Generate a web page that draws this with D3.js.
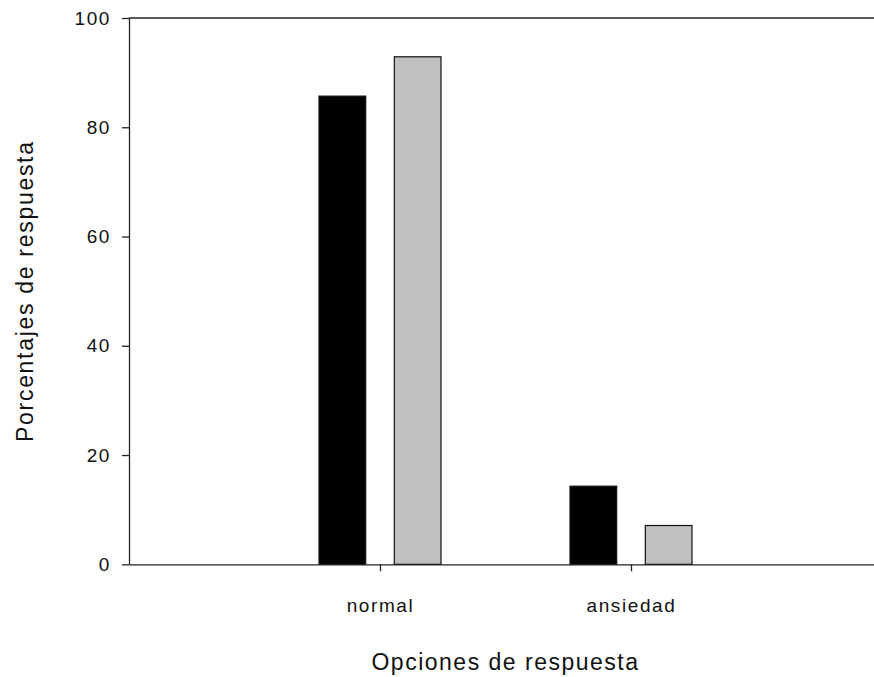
<!DOCTYPE html>
<html><head><meta charset="utf-8">
<script src="https://cdn.jsdelivr.net/npm/d3@7"></script>
<style>body{margin:0;background:#fff}svg{display:block}</style>
</head><body>
<script>
const categories = ["normal", "ansiedad"];
const series1 = [85.7, 14.3];   // black bars
const series2 = [92.9, 7.1];    // grey bars
const yTicks = [0, 20, 40, 60, 80, 100];
const xTitle = "Opciones de respuesta";
const yTitle = "Porcentajes de respuesta";

const W = 874, H = 677;
const pLeft = 129, pTop = 18, pBottom = 564.3, pRight = 882;
const svg = d3.select("body").append("svg").attr("width", W).attr("height", H);

const x = d3.scaleLinear().domain([0, categories.length + 1]).range([pLeft, pRight]);
const y = d3.scaleLinear().domain([0, 100]).range([pBottom, pTop]);

const off = 0.15, bw = 0.186;
const series = [{vals: series1, fill: "#000", o: -off}, {vals: series2, fill: "#c0c0c0", o: off}];
series.forEach(s => {
  svg.append("g").selectAll("rect").data(s.vals).join("rect")
    .attr("x", (d, i) => x(i + 1 + s.o - bw / 2))
    .attr("width", x(bw) - x(0))
    .attr("y", d => y(d))
    .attr("height", d => y(0) - y(d))
    .attr("fill", s.fill)
    .attr("stroke", "#111").attr("stroke-width", 1.2);
});

const font = "'Liberation Sans', Arial, Helvetica, sans-serif";
// Y axis
const yAxis = svg.append("g").attr("transform", `translate(${pLeft},0)`)
  .call(d3.axisLeft(y).tickValues(yTicks).tickSize(7).tickPadding(11).tickSizeOuter(0));
yAxis.select(".domain").attr("stroke", "#222").attr("stroke-width", 1.3);
yAxis.selectAll(".tick line").attr("stroke", "#222").attr("stroke-width", 1.3);
yAxis.selectAll("text").attr("font-family", font).attr("font-size", 19).attr("fill", "#111")
  .attr("letter-spacing", 1.6);

// X axis
const xAxis = svg.append("g").attr("transform", `translate(0,${pBottom})`)
  .call(d3.axisBottom(x).tickValues(categories.map((c, i) => i + 1))
    .tickFormat((d) => categories[d - 1]).tickSize(7).tickPadding(27).tickSizeOuter(0));
xAxis.select(".domain").attr("stroke", "#222").attr("stroke-width", 1.3);
xAxis.selectAll(".tick line").attr("stroke", "#222").attr("stroke-width", 1.3);
xAxis.selectAll("text").attr("font-family", font).attr("font-size", 19).attr("fill", "#111")
  .attr("letter-spacing", 1.6);

// Top frame line
svg.append("line").attr("x1", pLeft).attr("x2", pRight).attr("y1", y(100)).attr("y2", y(100))
  .attr("stroke", "#222").attr("stroke-width", 1.3);

// Titles
svg.append("text").attr("x", (pLeft + pRight) / 2).attr("y", 670)
  .attr("text-anchor", "middle").attr("font-family", font).attr("font-size", 23)
  .attr("letter-spacing", 1.5).attr("fill", "#111").text(xTitle);
svg.append("text").attr("transform", `translate(33,${(pTop + pBottom) / 2}) rotate(-90)`)
  .attr("text-anchor", "middle").attr("font-family", font).attr("font-size", 23)
  .attr("letter-spacing", 1.7).attr("fill", "#111").text(yTitle);
</script>
</body></html>
